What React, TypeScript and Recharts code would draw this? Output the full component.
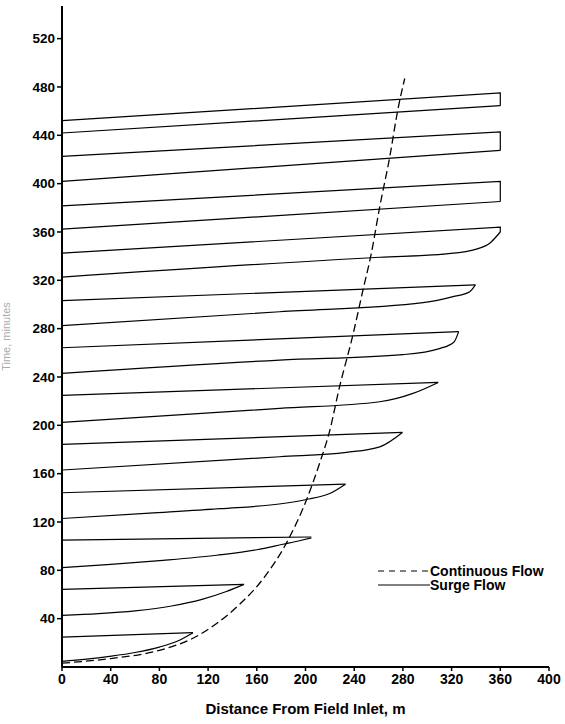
import React from "react";
import { LineChart, Line, XAxis, YAxis } from "recharts";

type Pt = { x: number; t: number };

const xTicks = [0, 40, 80, 120, 160, 200, 240, 280, 320, 360, 400];
const yTicks = [40, 80, 120, 160, 200, 240, 280, 320, 360, 400, 440, 480, 520];

const continuousFlow: Pt[] = [
  { x: 0, t: 3.2 }, { x: 40, t: 7 }, { x: 80, t: 13.8 }, { x: 108, t: 24 },
  { x: 127, t: 36 }, { x: 145, t: 51 }, { x: 166, t: 74 }, { x: 184, t: 102 },
  { x: 200.7, t: 138 }, { x: 211.7, t: 169 }, { x: 219.5, t: 194 }, { x: 228, t: 232 },
  { x: 238.5, t: 273 }, { x: 247, t: 311 }, { x: 254, t: 342 }, { x: 261, t: 381 },
  { x: 269, t: 421 }, { x: 276, t: 462 }, { x: 281.5, t: 487 },
];

// Surge cycles: advance front (inlet -> tip) and recession line (inlet -> tip, incl. runoff at field end)
const surge1Adv: Pt[] = [{ x: 0, t: 4.6 }, { x: 20, t: 6.5 }, { x: 39, t: 8.8 }, { x: 60, t: 12 }, { x: 80, t: 16.5 }, { x: 95, t: 21.5 }, { x: 107.6, t: 28.4 }];
const surge1Rec: Pt[] = [{ x: 0, t: 24.8 }, { x: 107.6, t: 28.4 }];
const surge2Adv: Pt[] = [{ x: 0, t: 42.8 }, { x: 30, t: 44.2 }, { x: 60, t: 46.5 }, { x: 90, t: 50.5 }, { x: 115, t: 56 }, { x: 135, t: 62.5 }, { x: 149.5, t: 68.4 }];
const surge2Rec: Pt[] = [{ x: 0, t: 64.3 }, { x: 149.5, t: 68.4 }];
const surge3Adv: Pt[] = [{ x: 0, t: 82.3 }, { x: 40, t: 85 }, { x: 83, t: 88.3 }, { x: 127, t: 92.5 }, { x: 160, t: 97 }, { x: 181.5, t: 101.6 }, { x: 195, t: 104.5 }, { x: 204.8, t: 106.8 }];
const surge3Rec: Pt[] = [{ x: 0, t: 105 }, { x: 204.8, t: 107.6 }];
const surge4Adv: Pt[] = [{ x: 0, t: 122.9 }, { x: 72, t: 127.3 }, { x: 130, t: 131 }, { x: 181.5, t: 135.3 }, { x: 200.7, t: 138.6 }, { x: 219.9, t: 143.6 }, { x: 232.8, t: 151.3 }];
const surge4Rec: Pt[] = [{ x: 0, t: 144.2 }, { x: 232.8, t: 151.3 }];
const surge5Adv: Pt[] = [{ x: 0, t: 163 }, { x: 178.8, t: 174 }, { x: 233.6, t: 177.6 }, { x: 261, t: 182.2 }, { x: 279.6, t: 194.1 }];
const surge5Rec: Pt[] = [{ x: 0, t: 184.2 }, { x: 279.6, t: 194.1 }];
const surge6Adv: Pt[] = [{ x: 0, t: 202.4 }, { x: 178.8, t: 214 }, { x: 261, t: 219.5 }, { x: 288.3, t: 226.4 }, { x: 309, t: 235.5 }];
const surge6Rec: Pt[] = [{ x: 0, t: 224.8 }, { x: 309, t: 235.5 }];
const surge7Adv: Pt[] = [{ x: 0, t: 243 }, { x: 178.8, t: 254 }, { x: 280, t: 258.5 }, { x: 310, t: 263.5 }, { x: 322, t: 269 }, { x: 325.8, t: 277.5 }];
const surge7Rec: Pt[] = [{ x: 0, t: 264.2 }, { x: 325.8, t: 277.5 }];
const surge8Adv: Pt[] = [{ x: 0, t: 282.5 }, { x: 178.8, t: 294 }, { x: 296.5, t: 301.5 }, { x: 321.2, t: 306.5 }, { x: 334.9, t: 310.6 }, { x: 339.5, t: 316.2 }];
const surge8Rec: Pt[] = [{ x: 0, t: 303.2 }, { x: 339.5, t: 316.2 }];
const surge9Adv: Pt[] = [{ x: 0, t: 322.6 }, { x: 261, t: 339.1 }, { x: 315.7, t: 341.9 }, { x: 340.4, t: 345.8 }, { x: 351.3, t: 350.7 }, { x: 360, t: 360 }];
const surge9Rec: Pt[] = [{ x: 0, t: 342.5 }, { x: 360, t: 364 }, { x: 360, t: 360 }];
const surge10Adv: Pt[] = [{ x: 0, t: 362.3 }, { x: 360, t: 385.2 }];
const surge10Rec: Pt[] = [{ x: 0, t: 381.6 }, { x: 360, t: 401.8 }, { x: 360, t: 385.2 }];
const surge11Adv: Pt[] = [{ x: 0, t: 401.8 }, { x: 360, t: 427.5 }];
const surge11Rec: Pt[] = [{ x: 0, t: 422.5 }, { x: 360, t: 442.8 }, { x: 360, t: 427.5 }];
const surge12Adv: Pt[] = [{ x: 0, t: 441.9 }, { x: 360, t: 464.5 }];
const surge12Rec: Pt[] = [{ x: 0, t: 452.1 }, { x: 360, t: 475 }, { x: 360, t: 464.5 }];

const advances: Pt[][] = [surge1Adv, surge2Adv, surge3Adv, surge4Adv, surge5Adv, surge6Adv, surge7Adv, surge8Adv, surge9Adv, surge10Adv, surge11Adv, surge12Adv];
const recessions: Pt[][] = [surge1Rec, surge2Rec, surge3Rec, surge4Rec, surge5Rec, surge6Rec, surge7Rec, surge8Rec, surge9Rec, surge10Rec, surge11Rec, surge12Rec];

const FONT = "'Liberation Sans', Arial, Helvetica, sans-serif";

export default function App() {
  return (
    <div style={{ position: "absolute", left: 0, top: 0, width: 565, height: 724, background: "#fff" }}>
      <LineChart width={565} height={724} margin={{ top: 6, right: 16, bottom: 0, left: 0 }}>
        <XAxis
          type="number"
          dataKey="x"
          domain={[0, 400]}
          ticks={xTicks}
          allowDataOverflow
          height={57}
          axisLine={{ stroke: "#000", strokeWidth: 2 }}
          tickLine={{ stroke: "#000", strokeWidth: 1.5 }}
          tickSize={4}
          tickMargin={3}
          tick={{ fill: "#000", fontSize: 14, fontWeight: 700, fontFamily: FONT }}
          label={{ value: "Distance From Field Inlet, m", position: "insideBottom", offset: 10, fill: "#000", fontSize: 15, fontWeight: 700, fontFamily: FONT }}
        />
        <YAxis
          type="number"
          dataKey="t"
          domain={[0, 547]}
          ticks={yTicks}
          allowDataOverflow
          width={62}
          axisLine={{ stroke: "#000", strokeWidth: 2 }}
          tickLine={{ stroke: "#000", strokeWidth: 1.5 }}
          tickSize={5}
          tickMargin={2}
          tick={{ fill: "#000", fontSize: 13.5, fontWeight: 700, fontFamily: FONT }}
          label={{ value: "Time, minutes", angle: -90, position: "insideLeft", offset: 6, fill: "#aaa", fontSize: 11, fontFamily: FONT, style: { textAnchor: "middle" } }}
        />
        <Line
          data={continuousFlow}
          dataKey="t"
          type="monotone"
          stroke="#000"
          strokeWidth={1.3}
          strokeDasharray="8 4"
          dot={false}
          isAnimationActive={false}
        />
        {advances.map((d, i) => (
          <Line
            key={"a" + i}
            data={d}
            dataKey="t"
            type="monotone"
            stroke="#000"
            strokeWidth={1.2}
            dot={false}
            isAnimationActive={false}
          />
        ))}
        {recessions.map((d, i) => (
          <Line
            key={"r" + i}
            data={d}
            dataKey="t"
            type="linear"
            stroke="#000"
            strokeWidth={1.2}
            dot={false}
            isAnimationActive={false}
          />
        ))}
      </LineChart>
      <svg width={200} height={44} style={{ position: "absolute", left: 370, top: 560 }}>
        <line x1={8} y1={11} x2={60} y2={11} stroke="#000" strokeWidth={1} strokeDasharray="6 5" />
        <text x={60} y={15.5} fontSize={14} fontWeight={700} fontFamily={FONT} fill="#000">Continuous Flow</text>
        <line x1={8} y1={25} x2={60} y2={25} stroke="#000" strokeWidth={1} />
        <text x={60} y={30} fontSize={14} fontWeight={700} fontFamily={FONT} fill="#000">Surge Flow</text>
      </svg>
    </div>
  );
}
